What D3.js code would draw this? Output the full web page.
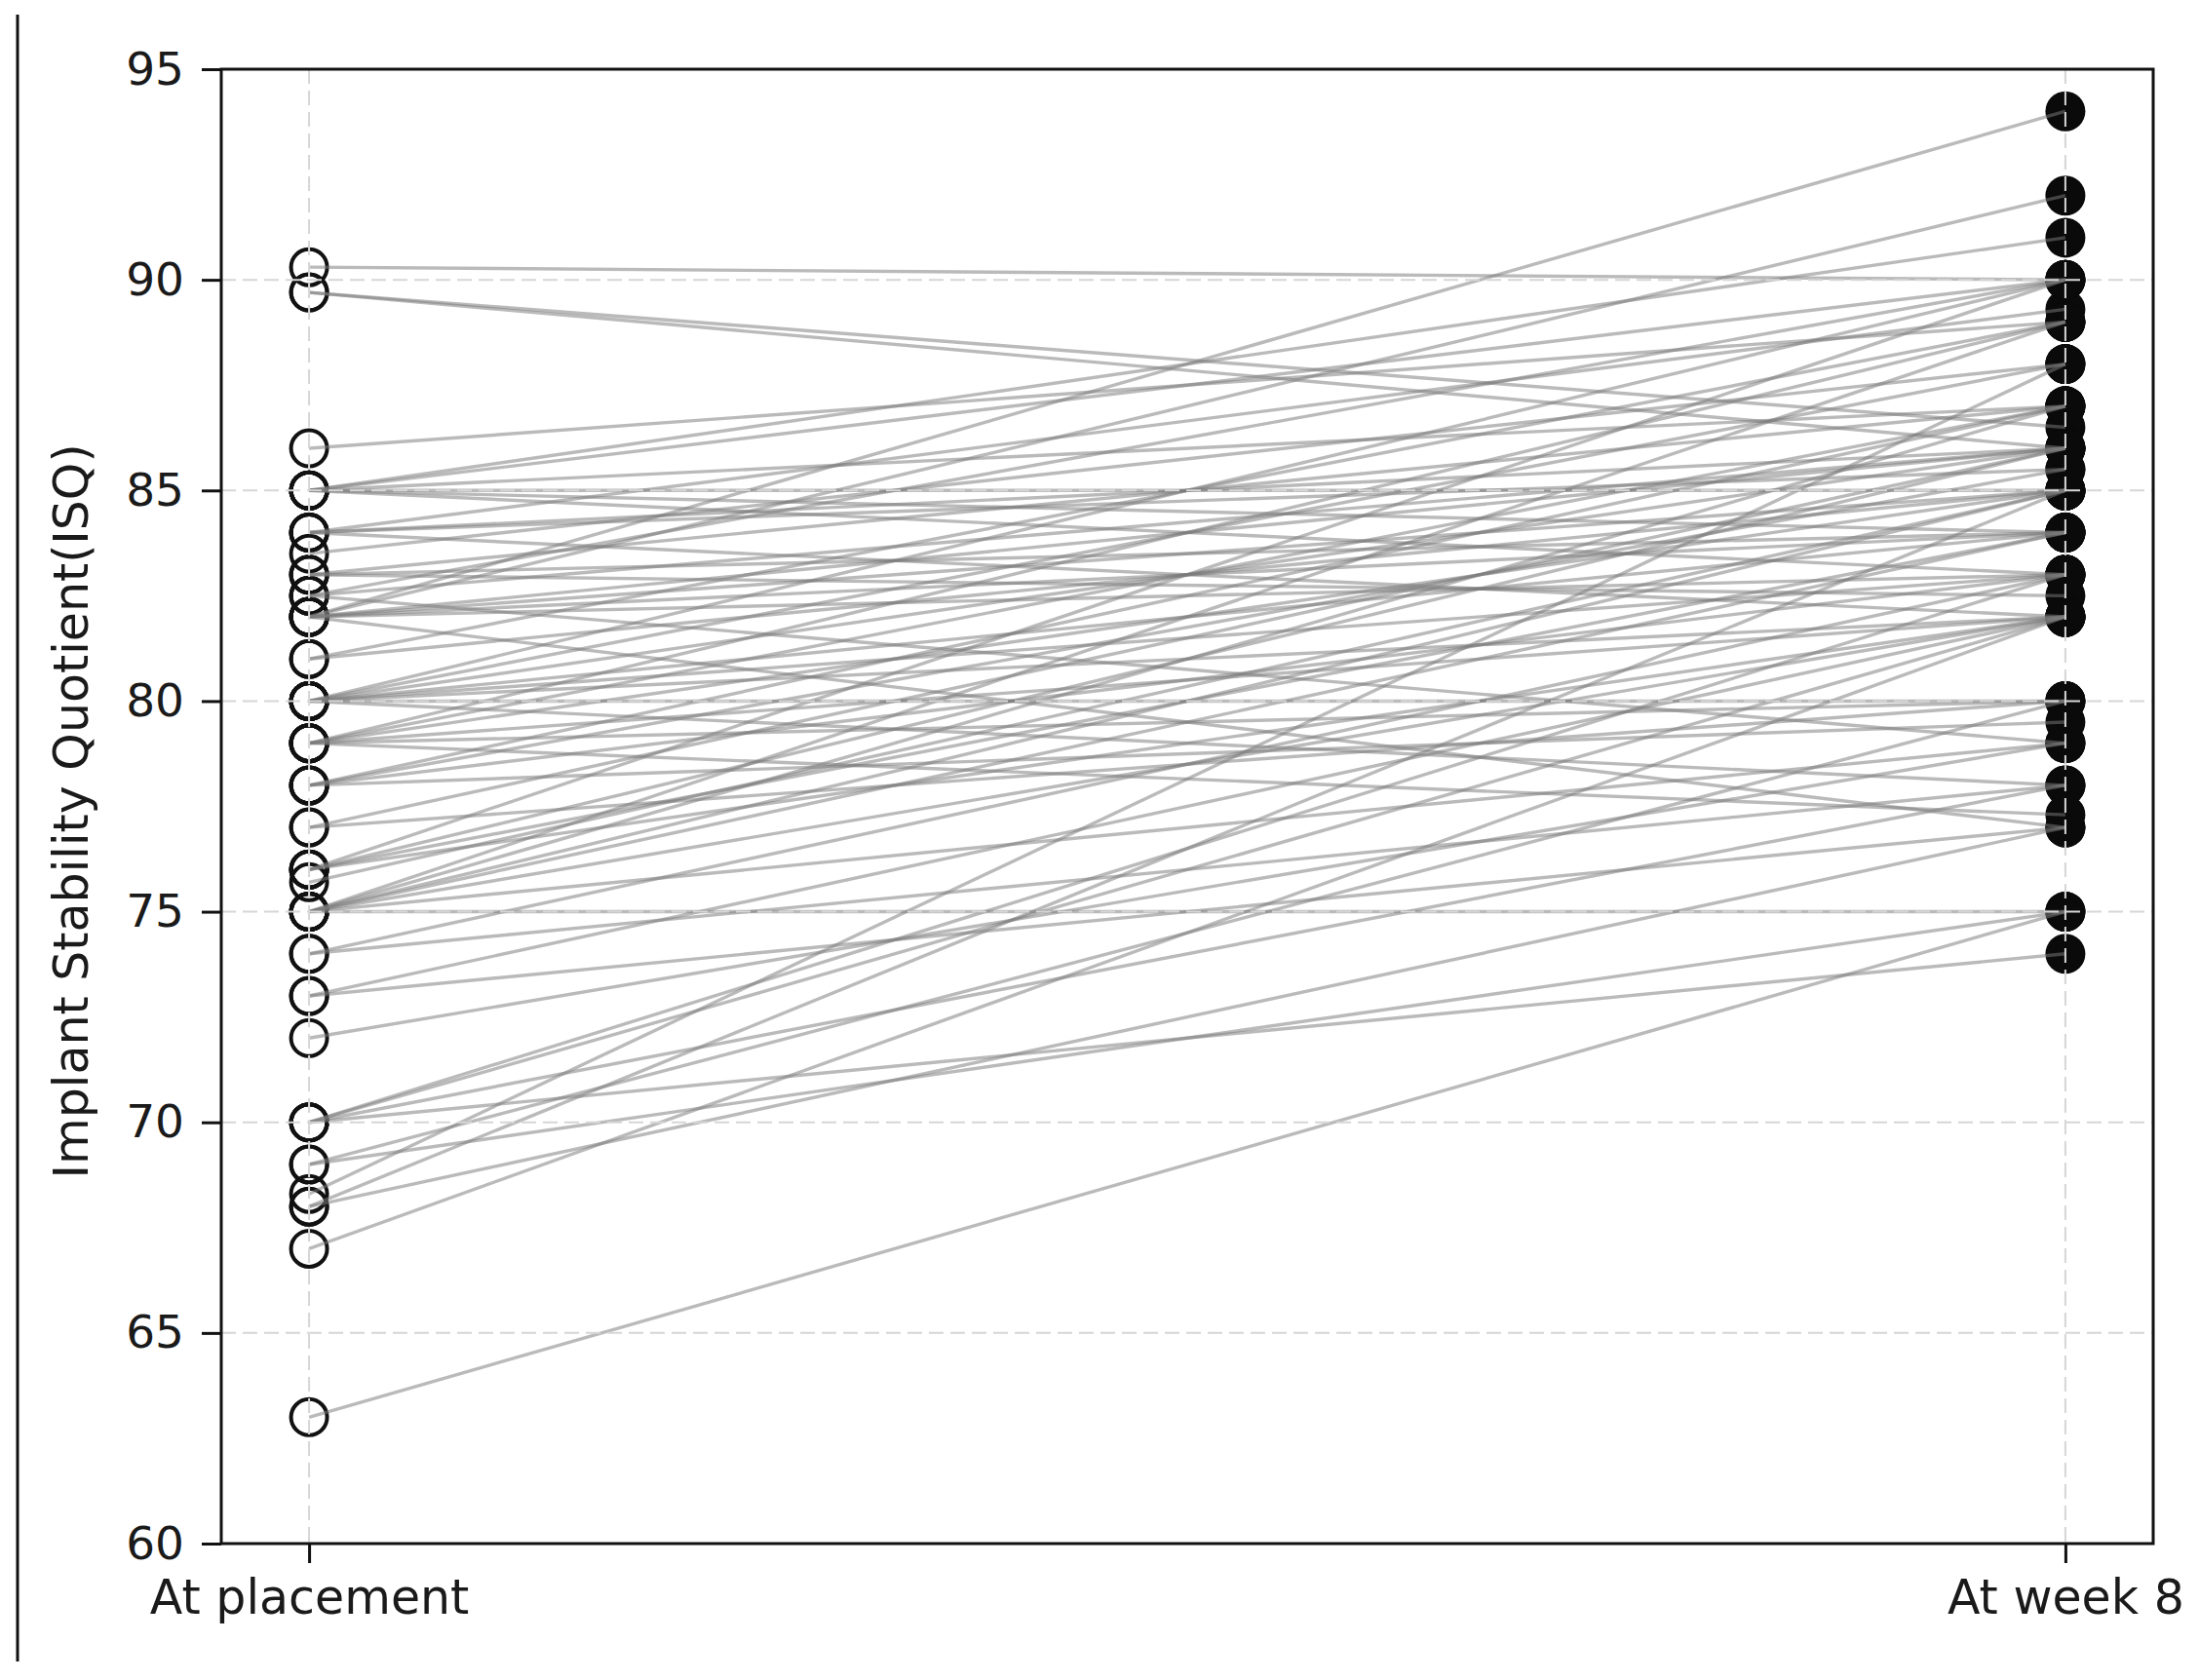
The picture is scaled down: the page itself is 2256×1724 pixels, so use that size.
<!DOCTYPE html>
<html><head><meta charset="utf-8">
<script src="https://cdn.jsdelivr.net/npm/d3@7"></script>
<style>html,body{margin:0;padding:0;background:#fff;} svg{display:block;}</style>
</head><body>
<script>
// ---- data ----
const categories = ["At placement", "At week 8"];
const placement = [
  90.3, 89.7, 89.7, 86, 85, 85, 85, 85, 85, 85,
  84, 84, 84, 84, 83.5, 83, 83, 83, 82.5, 82.5,
  82.5, 82, 82, 82, 82, 82, 82, 82, 81, 81,
  80, 80, 80, 80, 80, 80, 80, 80, 79, 79,
  79, 79, 79, 79, 78, 78, 78, 78, 77, 77,
  76, 76, 76, 76, 75.7, 75, 75, 75, 75, 75,
  75, 75, 74, 74, 73, 73, 72, 70, 70, 70,
  70, 69, 69, 68.3, 68, 68, 67, 63
];
const week8 = [
  90, 86.5, 86, 89, 91, 90, 85, 83, 87, 84,
  89.3, 86, 82, 85.5, 88, 84, 87, 82.5, 90, 86,
  79, 94, 92, 85, 83, 77, 86, 84, 89, 85,
  90, 88, 86, 84, 83, 82, 80, 78, 89, 87,
  85, 82, 80, 77.3, 87, 85.5, 83, 79.5, 86, 80,
  90, 86, 84, 82, 85, 89, 87, 85, 84, 82,
  79, 75, 83, 78, 82, 77, 79, 83, 82, 78,
  74, 80, 75, 88, 85, 77, 82, 75
];
const yTicks = [60, 65, 70, 75, 80, 85, 90, 95];
const yLabel = "Implant Stability Quotient(ISQ)";

// ---- layout ----
const W = 2256, H = 1724;
const m = {left: 227, right: 2209, top: 71, bottom: 1584};
const FONT = "'DejaVu Sans', sans-serif";
const svg = d3.select("body").append("svg").attr("width", W).attr("height", H);
svg.append("rect").attr("width", W).attr("height", H).attr("fill", "#fff");

const x = d3.scalePoint().domain(categories).range([m.left, m.right]).padding(0.05);
const y = d3.scaleLinear().domain([60, 95]).range([m.bottom, m.top]);

// outer rule at far left
svg.append("line").attr("x1", 18).attr("x2", 18).attr("y1", 15).attr("y2", 1705)
  .attr("stroke", "#111").attr("stroke-width", 3);

const pairs = placement.map((v, i) => ({a: v, b: week8[i]}));

// markers
svg.append("g").selectAll("circle").data(placement).join("circle")
  .attr("cx", x(categories[0])).attr("cy", d => y(d)).attr("r", 18.5)
  .attr("fill", "none").attr("stroke", "#111").attr("stroke-width", 4);
svg.append("g").selectAll("circle").data(week8).join("circle")
  .attr("cx", x(categories[1])).attr("cy", d => y(d)).attr("r", 20.5)
  .attr("fill", "#0a0a0a");

// connecting lines
svg.append("g").selectAll("line").data(pairs).join("line")
  .attr("x1", x(categories[0])).attr("x2", x(categories[1]))
  .attr("y1", d => y(d.a)).attr("y2", d => y(d.b))
  .attr("stroke", "#7a7a7a").attr("stroke-opacity", 0.52).attr("stroke-width", 3.4);

// grid
const grid = svg.append("g").attr("stroke", "#d6d6d6").attr("stroke-width", 2).attr("stroke-dasharray", "15,7");
grid.selectAll("line.gy").data(yTicks).join("line").attr("class", "gy")
  .attr("x1", m.left).attr("x2", m.right).attr("y1", d => y(d)).attr("y2", d => y(d));
grid.selectAll("line.gx").data(categories).join("line").attr("class", "gx")
  .attr("x1", d => x(d)).attr("x2", d => x(d)).attr("y1", m.top).attr("y2", m.bottom);

// axes
const yAxis = svg.append("g").attr("transform", `translate(${m.left},0)`)
  .call(d3.axisLeft(y).tickValues(yTicks).tickSize(20).tickPadding(18).tickFormat(d3.format("d")));
const xAxis = svg.append("g").attr("transform", `translate(0,${m.bottom})`)
  .call(d3.axisBottom(x).tickSize(20).tickPadding(17));
[yAxis, xAxis].forEach(g => {
  g.select(".domain").remove();
  g.selectAll(".tick line").attr("stroke", "#111").attr("stroke-width", 3);
  g.selectAll(".tick text").attr("fill", "#1a1a1a").style("font-family", FONT);
});
yAxis.selectAll(".tick text").style("font-size", "47px");
xAxis.selectAll(".tick text").style("font-size", "49px");

// spines
svg.append("rect").attr("x", m.left).attr("y", m.top)
  .attr("width", m.right - m.left).attr("height", m.bottom - m.top)
  .attr("fill", "none").attr("stroke", "#111").attr("stroke-width", 3);

// y label
svg.append("text").attr("transform", `translate(90,${(m.top + m.bottom) / 2 + 5}) rotate(-90)`)
  .attr("text-anchor", "middle").attr("fill", "#1a1a1a")
  .style("font-family", FONT).style("font-size", "49px").text(yLabel);
</script>
</body></html>
